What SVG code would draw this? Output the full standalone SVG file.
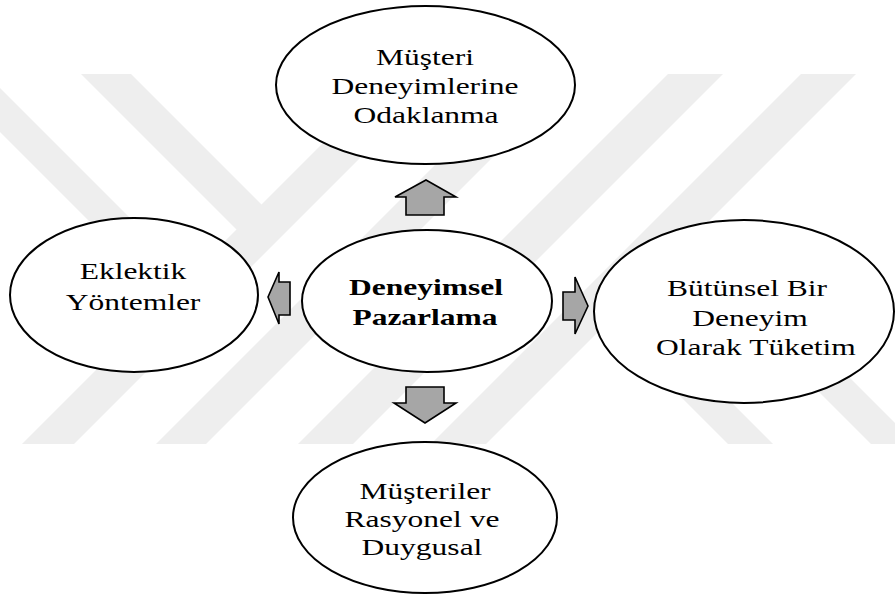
<svg xmlns="http://www.w3.org/2000/svg" width="895" height="595" viewBox="0 0 895 595">
<style>
.wm{fill:#eeeeee;stroke:none}
.node ellipse{fill:#ffffff;stroke:#000000;stroke-width:2}
.lbl{font-family:"Liberation Serif","Times New Roman",serif;font-size:23px;fill:#000000;text-anchor:middle}
.bold{font-weight:bold}
.arrow{fill:#a6a6a6;stroke:#000000;stroke-width:1.6;stroke-linejoin:miter}
</style>
<rect x="0" y="0" width="895" height="595" fill="#ffffff"/>
<g id="watermark">
<polygon class="wm" points="22,444 74,444 444,74 392,74"/>
<polygon class="wm" points="156,444 206,444 576,74 526,74"/>
<polygon class="wm" points="298,444 353,444 723,74 668,74"/>
<polygon class="wm" points="431,444 486,444 856,74 801,74"/>
<polygon class="wm" points="-58,74 -14,74 202,290 180,312"/>
<polygon class="wm" points="81,74 131,74 274.5,217.5 249.5,242.5"/>
<polygon class="wm" points="728,444 773,444 615.5,286.5 593,309"/>
<polygon class="wm" points="871,444 916,444 687,215 664.5,237.5"/>
</g>
<g id="connectors">
<polygon class="arrow" points="426,180 456,197 444,197 444,215 406,215 406,197 395,197"/>
<polygon class="arrow" points="406,387 444,387 444,403 456,403 425,423 394,403 406,403"/>
<polygon class="arrow" points="563,292 575,292 575,277 588,306 575,334 575,320 563,320"/>
<polygon class="arrow" points="290,282 279,282 279,272 268,297 279,324 279,315 290,315"/>
</g>
<g id="node-top" class="node">
<ellipse cx="425.5" cy="85" rx="149.5" ry="79"/>
<text class="lbl" transform="translate(425,0) scale(1.37,1)" y="65">Müşteri</text>
<text class="lbl" transform="translate(425,0) scale(1.37,1)" y="94">Deneyimlerine</text>
<text class="lbl" transform="translate(426,0) scale(1.37,1)" y="123">Odaklanma</text>
</g>
<g id="node-left" class="node">
<ellipse cx="134" cy="295" rx="124" ry="77"/>
<text class="lbl" transform="translate(133,0) scale(1.37,1)" y="279">Eklektik</text>
<text class="lbl" transform="translate(133,0) scale(1.37,1)" y="310">Yöntemler</text>
</g>
<g id="node-center" class="node">
<ellipse cx="427" cy="301" rx="125" ry="71"/>
<text class="lbl bold" transform="translate(426,0) scale(1.37,1)" y="295">Deneyimsel</text>
<text class="lbl bold" transform="translate(425,0) scale(1.37,1)" y="325">Pazarlama</text>
</g>
<g id="node-right" class="node">
<ellipse cx="744" cy="311.5" rx="150" ry="91.5"/>
<text class="lbl" transform="translate(747,0) scale(1.37,1)" y="296">Bütünsel Bir</text>
<text class="lbl" transform="translate(750,0) scale(1.37,1)" y="326">Deneyim</text>
<text class="lbl" transform="translate(756,0) scale(1.37,1)" y="355">Olarak Tüketim</text>
</g>
<g id="node-bottom" class="node">
<ellipse cx="425" cy="517.5" rx="132" ry="75.5"/>
<text class="lbl" transform="translate(425,0) scale(1.37,1)" y="499">Müşteriler</text>
<text class="lbl" transform="translate(422,0) scale(1.37,1)" y="527">Rasyonel ve</text>
<text class="lbl" transform="translate(422,0) scale(1.37,1)" y="555">Duygusal</text>
</g>
</svg>
